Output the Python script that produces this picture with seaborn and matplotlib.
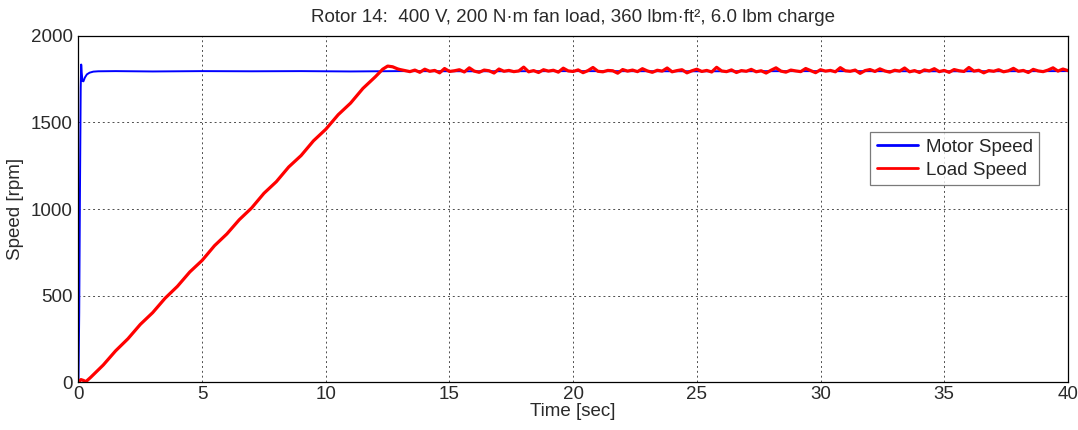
import numpy as np
import pandas as pd
import matplotlib
matplotlib.use("Agg")
import matplotlib.pyplot as plt
import seaborn as sns

# ---- data -------------------------------------------------------------
TITLE = "Rotor 14:  400 V, 200 N\u00b7m fan load, 360 lbm\u00b7ft\u00b2, 6.0 lbm charge"
X_LABEL = "Time [sec]"
Y_LABEL = "Speed [rpm]"
SERIES = ["Motor Speed", "Load Speed"]
X_TICKS = [0, 5, 10, 15, 20, 25, 30, 35, 40]
Y_TICKS = [0, 500, 1000, 1500, 2000]

# motor speed [rpm] vs time [s]
motor_t = [0.0, 0.03, 0.06, 0.09, 0.11, 0.13, 0.16, 0.20, 0.26, 0.34, 0.45,
           0.6, 0.8, 1.5, 3, 5, 7, 9, 11, 13, 16, 20, 25, 30, 35, 40]
motor_v = [0, 400, 1100, 1700, 1835, 1790, 1740, 1738, 1760, 1778, 1788,
           1794, 1796, 1797, 1795, 1797, 1796, 1797, 1795, 1797, 1796, 1797,
           1796, 1797, 1796, 1797]

# load speed during acceleration
ramp_t = [0.0, 0.1, 0.2, 0.3, 0.5, 1.0, 1.5, 2.0, 2.5, 3.0, 3.5, 4.0, 4.5,
          5.0, 5.5, 6.0, 6.5, 7.0, 7.5, 8.0, 8.5, 9.0, 9.5, 10.0, 10.5,
          11.0, 11.5, 12.0, 12.3, 12.5, 12.7, 12.9]
ramp_v = [0, 14, 9, 2, 28, 98, 180, 250, 333, 401, 484, 553, 636,
          703, 788, 856, 938, 1006, 1091, 1158, 1243, 1309, 1394, 1461, 1545,
          1612, 1697, 1764, 1808, 1826, 1822, 1810]

# load speed at steady state, sampled every 0.2 s from 13.0 s to 40.0 s
steady_v = [1806, 1800, 1794, 1803, 1790, 1808, 1796, 1801, 1787, 1812, 1795,
            1799, 1805, 1792, 1816, 1797, 1790, 1803, 1799, 1786, 1809,
            1796, 1801, 1794, 1798, 1820, 1793, 1800, 1789, 1805, 1797,
            1802, 1791, 1814, 1798, 1795, 1804, 1788, 1800, 1818, 1796,
            1793, 1801, 1799, 1785, 1806, 1797, 1803, 1794, 1811, 1798,
            1790, 1802, 1797, 1815, 1793, 1800, 1805, 1787, 1799, 1808,
            1795, 1801, 1792, 1819, 1798, 1794, 1804, 1789, 1800, 1796,
            1807, 1793, 1799, 1786, 1802, 1816, 1797, 1791, 1803, 1798,
            1794, 1812, 1800, 1788, 1805, 1797, 1801, 1793, 1817, 1799,
            1796, 1803, 1784, 1800, 1806, 1795, 1810, 1798, 1791, 1802,
            1797, 1815, 1793, 1800, 1789, 1804, 1798, 1811, 1794, 1801,
            1790, 1806, 1799, 1795, 1818, 1797, 1802, 1787, 1800, 1796,
            1805, 1793, 1799, 1813, 1796, 1801, 1789, 1807, 1798, 1794,
            1803, 1816, 1797, 1809, 1800]
steady_t = list(np.linspace(13.0, 40.0, len(steady_v)))

# ---- frames -----------------------------------------------------------
motor_df = pd.DataFrame({"t": motor_t, "v": motor_v, "series": SERIES[0]})
load_df = pd.DataFrame({"t": ramp_t + steady_t, "v": ramp_v + steady_v,
                        "series": SERIES[1]})

# ---- style ------------------------------------------------------------
sns.set_style("white")
plt.rcParams["font.family"] = ["Liberation Sans", "DejaVu Sans"]
FS = 13.5
TXT = "#2a2a2a"

fig = plt.figure(figsize=(10.78, 4.30), dpi=100)
ax = fig.add_axes([0.0728, 0.1116, 0.9178, 0.8047])

sns.lineplot(data=motor_df, x="t", y="v", ax=ax, color=(0, 0, 1),
             linewidth=1.4, estimator=None, sort=False, label=SERIES[0])
sns.lineplot(data=load_df, x="t", y="v", ax=ax, color=(1, 0, 0),
             linewidth=2.3, estimator=None, sort=False, label=SERIES[1])

ax.set_xlim(0, 40)
ax.set_ylim(0, 2000)
ax.set_xticks(X_TICKS)
ax.set_yticks(Y_TICKS)
ax.tick_params(axis="both", direction="in", length=4, labelsize=FS,
               colors="black", labelcolor=TXT, pad=4)
ax.tick_params(axis="x", pad=3)

ax.grid(True, linestyle=(0, (2, 3)), color="0.3", linewidth=0.7)
ax.set_axisbelow(True)
for s in ax.spines.values():
    s.set_color("black")
    s.set_linewidth(0.9)
    s.set_visible(True)

ax.set_title(TITLE, fontsize=FS, pad=10, color=TXT)
ax.set_xlabel(X_LABEL, fontsize=FS, labelpad=0, color=TXT)
ax.set_ylabel(Y_LABEL, fontsize=FS, labelpad=5, color=TXT)

leg = ax.legend(loc="upper right", bbox_to_anchor=(0.971, 0.722),
                fontsize=FS, frameon=True, fancybox=False, handlelength=2.2,
                borderpad=0.35, labelspacing=0.3, handletextpad=0.4,
                borderaxespad=0)
leg.get_frame().set_edgecolor("0.35")
leg.get_frame().set_linewidth(0.9)
for line in leg.get_lines():
    line.set_linewidth(2.0)

fig.savefig("out.png", dpi=100)
